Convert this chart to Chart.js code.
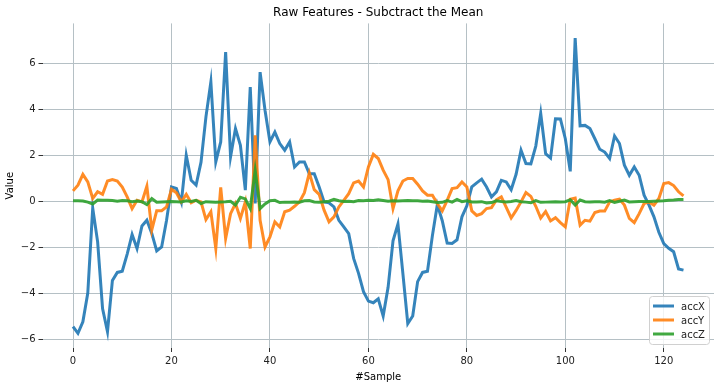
<!DOCTYPE html>
<html>
<head>
<meta charset="utf-8">
<script src="https://cdn.jsdelivr.net/npm/chart.js@4"></script>
<style>
  body { margin: 0; background: #fff; }
  canvas { display: block; }
</style>
</head>
<body>
<canvas id="raw-chart" width="719" height="387"></canvas>
<script>
const xTicks = [0, 20, 40, 60, 80, 100, 120];
const yTicks = [-6, -4, -2, 0, 2, 4, 6];

const accX = [
    -5.46, -5.75, -5.25, -4.0, -0.3, -1.77, -4.67, -5.68, -3.45, -3.1,
    -3.05, -2.3, -1.45, -2.06, -1.08, -0.83, -1.4, -2.16, -1.99, -0.83,
    0.62, 0.55, -0.05, 2.0, 0.91, 0.7, 1.7, 3.67, 5.19, 1.71,
    2.58, 6.49, 1.93, 3.16, 2.43, 0.48, 4.97, -0.1, 5.62, 3.96,
    2.58, 3.01, 2.51, 2.22, 2.58, 1.49, 1.71, 1.71, 1.2, 1.2,
    0.62, -0.03, -0.07, -0.25, -0.83, -1.12, -1.41, -2.49, -3.14, -3.94,
    -4.35, -4.42, -4.25, -5.0, -3.75, -1.72, -0.99, -3.14, -5.33, -5.0,
    -3.5, -3.1, -3.05, -1.5, -0.15, -0.85, -1.82, -1.84, -1.68, -0.68,
    -0.2, 0.62, 0.8, 0.96, 0.62, 0.19, 0.41, 0.91, 0.84, 0.5,
    1.17, 2.22, 1.64, 1.62, 2.4, 3.82, 2.07, 1.88, 3.59, 3.58,
    2.72, 1.3, 7.1, 3.28, 3.3, 3.16, 2.72, 2.26, 2.14, 1.86,
    2.84, 2.51, 1.57, 1.13, 1.49, 1.13, 0.26, -0.17, -0.68, -1.35,
    -1.85, -2.05, -2.2, -2.95, -3.0
];

const accY = [
    0.45, 0.7, 1.17, 0.84, 0.12, 0.41, 0.3, 0.88, 0.94, 0.88,
    0.62, 0.19, -0.32, 0.04, -0.03, 0.65, -1.25, -0.41, -0.41, -0.25,
    0.52, 0.37, -0.03, 0.3, -0.07, 0.04, -0.03, -0.8, -0.46, -2.06,
    0.6, -1.62, -0.54, -0.1, -0.75, -0.03, -2.06, 2.87, -0.83, -1.99,
    -1.55, -0.9, -1.12, -0.46, -0.39, -0.22, -0.03, 0.37, 1.23, 0.5,
    0.3, -0.39, -0.9, -0.68, -0.25, 0.04, 0.33, 0.8, 0.88, 0.62,
    1.49, 2.04, 1.86, 1.35, 0.94, -0.32, 0.45, 0.88, 0.99, 0.99,
    0.74, 0.45, 0.26, 0.26, -0.1, -0.42, 0.04, 0.55, 0.59, 0.84,
    0.62, -0.42, -0.62, -0.54, -0.32, -0.28, 0.06, 0.19, -0.27, -0.73,
    -0.4, -0.03, 0.38, 0.21, -0.22, -0.73, -0.45, -0.86, -0.72, -0.93,
    -1.12, 0.09, 0.14, -1.04, -0.83, -0.87, -0.49, -0.43, -0.43, -0.03,
    0.04, 0.09, -0.17, -0.75, -0.93, -0.54, -0.1, -0.03, -0.17, 0.12,
    0.77, 0.81, 0.68, 0.41, 0.23
];

const accZ = [
    0.02, 0.02, 0.01, -0.04, -0.12, 0.05, 0.04, 0.04, 0.03, 0.0,
    0.03, 0.02, -0.02, 0.01, -0.02, -0.15, 0.12, -0.04, -0.03, -0.02,
    -0.01, -0.02, -0.03, 0.02, -0.01, 0.04, -0.1, -0.02, -0.03, -0.04,
    -0.03, -0.02, 0.0, -0.17, 0.17, 0.1, -0.32, 1.35, -0.32, -0.12,
    0.02, 0.04, -0.06, -0.04, -0.04, -0.03, -0.04, 0.02, 0.03, -0.03,
    -0.04, -0.02, 0.0, 0.08, 0.02, -0.01, 0.0, -0.02, 0.03, 0.02,
    0.04, 0.03, 0.06, 0.03, 0.0, 0.02, 0.01, 0.02, 0.03, 0.02,
    0.02, 0.0, 0.01, -0.02, -0.06, -0.05, 0.03, -0.04, 0.08, -0.02,
    0.02, -0.03, -0.03, -0.02, -0.08, -0.06, 0.02, -0.01, -0.03, -0.01,
    0.03, -0.02, -0.04, -0.07, 0.03, -0.05, -0.04, -0.03, -0.02, -0.03,
    -0.02, 0.06, -0.17, 0.05, -0.02, -0.03, -0.02, -0.02, -0.04, 0.03,
    -0.05, 0.0, 0.05, -0.03, -0.02, -0.01, -0.01, -0.01, 0.0, 0.01,
    0.02, 0.04, 0.05, 0.07, 0.07
];

// sample index on the x axis
const samples = accX.map((v, i) => i);

const font_family = "'DejaVu Sans', sans-serif";
const grid_color = "#b5c0c5";

const minus_label = (v) => v < 0 ? "\u2212" + Math.abs(v) : String(v);

// matplotlib style legend, lower right inside the plot
const inner_legend = {
    id: "innerLegend",
    afterDraw(chart) {
        const ctx = chart.ctx, area = chart.chartArea;
        const w = 60, h = 48;
        const x = area.right - 5 - w, y = area.bottom - 4 - h;

        ctx.save();
        ctx.beginPath();
        ctx.roundRect(x + 0.5, y + 0.5, w, h, 3);
        ctx.fillStyle = "rgba(255,255,255,0.8)";
        ctx.fill();
        ctx.strokeStyle = "#d0d0d0";
        ctx.lineWidth = 1;
        ctx.stroke();

        ctx.font = "10px " + font_family;
        ctx.textBaseline = "middle";
        chart.data.datasets.forEach((ds, i) => {
            const ly = y + 10 + i * 14;
            ctx.beginPath();
            ctx.moveTo(x + 4, ly);
            ctx.lineTo(x + 25, ly);
            ctx.strokeStyle = ds.borderColor;
            ctx.lineWidth = 3;
            ctx.stroke();
            ctx.fillStyle = "#222";
            ctx.fillText(ds.label, x + 32, ly + 1);
        });
        ctx.restore();
    }
};

const ctx = document.getElementById("raw-chart").getContext("2d");

const rawChart = new Chart(ctx, {
    type: "line",
    data: {
        labels: samples,
        datasets: [
            {
                label: "accX",
                data: accX,
                borderColor: "rgba(31, 119, 180, 0.9)",
                borderWidth: 3,
                order: 3,
            }, {
                label: "accY",
                data: accY,
                borderColor: "rgba(255, 127, 14, 0.9)",
                borderWidth: 3,
                order: 2,
            }, {
                label: "accZ",
                data: accZ,
                borderColor: "rgba(44, 160, 44, 0.9)",
                borderWidth: 3,
                order: 1,
            }
        ],
    },
    options: {
        responsive: false,
        animation: false,
        elements: {
            point: { radius: 0 },
            line: { tension: 0 },
        },
        layout: {
            padding: { left: 0, right: 5, top: 0, bottom: 0 }
        },
        plugins: {
            legend: { display: false },
            tooltip: { enabled: false },
            title: {
                display: true,
                text: "Raw Features - Subctract the Mean",
                fullSize: false,
                color: "#000",
                font: { family: font_family, size: 12, weight: "normal" },
                padding: { top: 6, bottom: 3 },
            },
        },
        scales: {
            x: {
                type: "linear",
                min: -6.2,
                max: 130.2,
                afterBuildTicks: (scale) => {
                    scale.ticks = xTicks.map((v) => ({ value: v }));
                },
                afterFit: (scale) => { scale.height = 39; },
                border: { display: false },
                grid: {
                    color: grid_color,
                    lineWidth: 1,
                    tickColor: "#333",
                    tickLength: 4,
                },
                ticks: {
                    color: "#222",
                    padding: 3,
                    maxRotation: 0,
                    font: { family: font_family, size: 10 },
                },
                title: {
                    display: true,
                    text: "#Sample",
                    color: "#000",
                    font: { family: font_family, size: 10 },
                    padding: { top: 0, bottom: 4 },
                },
            },
            y: {
                min: -6.39,
                max: 7.74,
                afterBuildTicks: (scale) => {
                    scale.ticks = yTicks.map((v) => ({ value: v }));
                },
                afterFit: (scale) => { scale.width = 42.5; },
                border: { display: false },
                grid: {
                    color: grid_color,
                    lineWidth: 1,
                    tickColor: "#333",
                    tickLength: 4,
                },
                ticks: {
                    color: "#222",
                    padding: 3,
                    font: { family: font_family, size: 10 },
                    callback: (v) => minus_label(v),
                },
                title: {
                    display: true,
                    text: "Value",
                    color: "#000",
                    font: { family: font_family, size: 10 },
                    padding: { top: 4, bottom: 0 },
                },
            },
        },
    },
    plugins: [inner_legend],
});
</script>
</body>
</html>
